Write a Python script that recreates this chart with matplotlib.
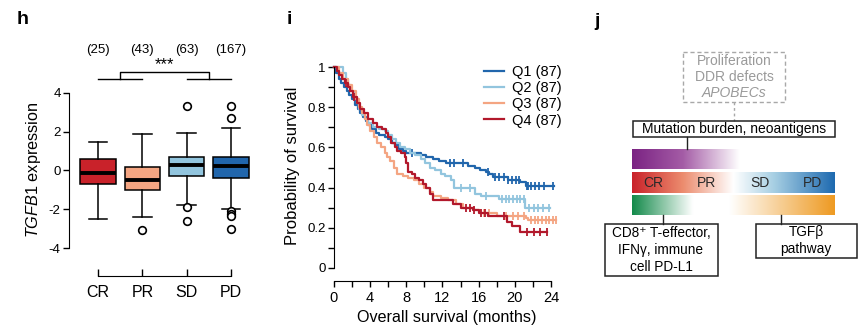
import numpy as np
import matplotlib
matplotlib.use('Agg')
import matplotlib.pyplot as plt
from matplotlib.colors import to_rgb
from matplotlib.patches import Rectangle

plt.rcParams['font.family'] = ['Liberation Sans', 'DejaVu Sans']
plt.rcParams['mathtext.fontset'] = 'custom'
plt.rcParams['mathtext.it'] = 'Liberation Sans:italic'
plt.rcParams['mathtext.rm'] = 'Liberation Sans'

# ---- panel h: TGFB1 expression by response ----
groups = ['CR', 'PR', 'SD', 'PD']
group_n = [25, 43, 63, 167]
box_colors = ['#C9222A', '#F4A582', '#92C5DE', '#2166AC']
whislo = [-2.49, -2.40, -1.76, -1.97]
q1 = [-0.70, -1.02, -0.30, -0.40]
med = [-0.13, -0.51, 0.27, 0.21]
q3 = [0.59, 0.16, 0.70, 0.71]
whishi = [1.45, 1.90, 1.94, 2.19]
fliers = [[], [-3.05], [3.31, -1.88, -2.59], [3.31, 2.69, -2.10, -2.22, -2.37, -3.00]]

# ---- panel i: Kaplan-Meier by TGFB1 quartile ----
km_labels = ['Q1 (87)', 'Q2 (87)', 'Q3 (87)', 'Q4 (87)']
km_colors = ['#2166AC', '#92C5DE', '#F4A582', '#B2182B']
q1_t = [0, 0.2, 0.5, 0.8, 1.1, 1.4, 1.7, 2.0, 2.3, 2.6, 2.9, 3.2, 3.5, 3.8, 4.2, 4.6, 5.0, 5.6, 6.0, 6.4,
        6.8, 7.2, 7.6, 8.0, 9.6, 10.2, 11.0, 11.6, 12.4, 14.8, 15.6, 16.2, 16.8, 17.2, 17.6, 19.2, 20.6, 21.2]
q1_s = [1, .97, .94, .92, .90, .88, .86, .84, .81, .79, .77, .75, .73, .71, .69, .67, .66, .65, .64, .62,
        .61, .59, .58, .57, .56, .55, .54, .53, .52, .51, .50, .49, .48, .47, .455, .44, .43, .41]
q1_cens = [8.6, 12.8, 13.3, 14.3, 17.0, 17.8, 18.3, 18.8, 19.3, 19.7, 20.1, 20.5, 21.3, 21.5, 21.8,
           22.2, 22.7, 23.2, 24.2]
q2_t = [0, 1.0, 1.3, 1.6, 1.9, 2.2, 2.5, 2.8, 3.1, 3.4, 3.8, 4.3, 5.0, 5.6, 6.0, 6.4, 6.9, 7.3, 7.8, 8.4,
        9.0, 9.6, 10.1, 10.6, 11.2, 11.8, 12.3, 12.9, 13.3, 15.6, 16.3, 18.2, 21.1]
q2_s = [1, .97, .94, .91, .88, .85, .82, .79, .76, .74, .72, .70, .69, .68, .66, .64, .62, .60, .59, .57,
        .56, .54, .52, .50, .49, .47, .46, .44, .40, .37, .36, .345, .30]
q2_cens = [14.0, 15.0, 16.8, 18.6, 19.0, 19.4, 19.8, 20.2, 20.6, 21.0, 21.6, 22.1, 22.6, 23.1, 23.8]
q3_t = [0, 0.5, 1.0, 1.5, 2.0, 2.4, 2.8, 3.1, 3.4, 3.7, 4.0, 4.4, 4.8, 5.2, 5.6, 5.9, 6.2, 6.6, 7.0, 7.6,
        8.2, 8.8, 9.4, 10.0, 10.6, 11.0, 11.8, 12.6, 13.5, 14.3, 15.5, 16.2, 18.0, 21.2, 21.5]
q3_s = [1, .97, .94, .91, .88, .84, .80, .77, .74, .71, .68, .65, .62, .60, .57, .55, .53, .50, .47, .46,
        .45, .44, .42, .40, .38, .36, .35, .34, .32, .30, .29, .275, .26, .25, .24]
q3_cens = [16.6, 17.2, 19.0, 19.8, 20.4, 21.0, 21.8, 22.2, 22.6, 23.0, 23.4, 23.8, 24.2, 24.6]
q4_t = [0, 0.3, 0.6, 0.9, 1.2, 1.5, 1.8, 2.1, 2.5, 2.9, 3.3, 3.8, 4.3, 4.8, 5.3, 5.7, 6.0, 6.3, 6.7, 7.0,
        7.4, 7.8, 8.0, 8.2, 8.6, 9.0, 9.4, 9.8, 10.2, 10.6, 11.0, 13.2, 14.0, 15.4, 16.0, 17.0, 19.1, 19.7, 20.6]
q4_s = [1, .98, .96, .94, .92, .90, .88, .85, .82, .79, .77, .74, .72, .70, .69, .67, .65, .62, .60, .58,
        .57, .55, .52, .48, .47, .45, .44, .42, .40, .37, .34, .32, .30, .29, .275, .26, .23, .21, .18]
q4_cens = [1.3, 2.2, 14.6, 15.0, 15.5, 16.3, 16.7, 18.8, 21.3, 22.1, 22.8, 23.6]

fig = plt.figure(figsize=(8.6, 3.3), dpi=100)
W, H = 860.0, 330.0


def px_axes(x0, y0, x1, y1):
    # pixel box (top-left origin) -> figure axes
    return fig.add_axes([x0 / W, 1 - y1 / H, (x1 - x0) / W, (y1 - y0) / H])


# ================= h =================
axh = px_axes(69, 60, 260, 280)
stats = []
for i in range(4):
    stats.append(dict(med=med[i], q1=q1[i], q3=q3[i], whislo=whislo[i], whishi=whishi[i],
                      fliers=fliers[i], label=groups[i]))
bp = axh.bxp(stats, positions=[1, 2, 3, 4], widths=0.8, capwidths=0.42, patch_artist=True,
             boxprops=dict(linewidth=1.1, edgecolor='black'),
             medianprops=dict(color='black', linewidth=2.8),
             whiskerprops=dict(linewidth=1.1), capprops=dict(linewidth=1.1),
             flierprops=dict(marker='o', markersize=5.5, markerfacecolor='white',
                             markeredgecolor='black', markeredgewidth=1.2))
for patch, c in zip(bp['boxes'], box_colors):
    patch.set_facecolor(c)
axh.set_xlim(0.346, 4.655)
axh.set_ylim(-5.65, 5.70)
axh.spines['top'].set_visible(False)
axh.spines['right'].set_visible(False)
axh.spines['left'].set_bounds(-4, 4)
axh.spines['bottom'].set_position(('data', -5.42))
axh.spines['bottom'].set_bounds(1, 4)
axh.set_yticks([-4, -2, 0, 2, 4])
axh.set_yticklabels(['-4', '-2', '0', '2', '4'])
axh.tick_params(axis='y', labelsize=9.5, length=4, width=1, pad=2)
axh.tick_params(axis='x', direction='in', length=5, width=1, labelsize=11.5, pad=7)
axh.set_xticks([1, 2, 3, 4])
axh.set_xticklabels(groups)
axh.set_ylabel(r'$\it{TGFB1}$ expression', fontsize=11.7, labelpad=4)
for i, n in enumerate(group_n):
    axh.text(i + 1, 6.22, '(%d)' % n, ha='center', va='center', fontsize=9.5, clip_on=False)
axh.plot([1, 2], [4.71, 4.71], color='black', lw=1, clip_on=False)
axh.plot([3, 4], [4.71, 4.71], color='black', lw=1, clip_on=False)
axh.plot([1.5, 1.5, 3.5, 3.5], [4.71, 5.08, 5.08, 4.71], color='black', lw=1, clip_on=False)
axh.text(2.5, 5.45, '***', ha='center', va='center', fontsize=12, clip_on=False)

# ================= i =================
axi = px_axes(334, 63, 560, 268)
curves = [(q1_t, q1_s, q1_cens, 24.3), (q2_t, q2_s, q2_cens, 23.9),
          (q3_t, q3_s, q3_cens, 24.6), (q4_t, q4_s, q4_cens, 23.6)]
for (t, s, cens, tend), col, lab in zip(curves, km_colors, km_labels):
    tt = list(t) + [tend]
    ss = list(s) + [s[-1]]
    axi.step(tt, ss, where='post', color=col, lw=1.6, label=lab, clip_on=False)
    cy = [s[np.searchsorted(t, c, side='right') - 1] for c in cens]
    axi.plot(cens, cy, linestyle='none', marker='|', markersize=6, markeredgewidth=1.3,
             color=col, clip_on=False)
axi.set_xlim(0, 25)
axi.set_ylim(0, 1.02)
axi.spines['top'].set_visible(False)
axi.spines['right'].set_visible(False)
axi.spines['left'].set_bounds(0, 1)
axi.spines['bottom'].set_position(('outward', 9))
axi.spines['bottom'].set_bounds(0, 24)
axi.set_yticks([0, 0.2, 0.4, 0.6, 0.8, 1.0])
axi.set_yticklabels(['0', '0.2', '0.4', '0.6', '0.8', '1'])
axi.set_yticks(np.arange(0.1, 1.0, 0.2), minor=True)
axi.set_xticks(range(0, 25, 4))
axi.set_xticks(range(2, 24, 4), minor=True)
axi.tick_params(which='both', length=4, width=1)
axi.tick_params(axis='y', pad=2, labelsize=9.5)
axi.tick_params(axis='x', labelsize=10.5)
axi.set_ylabel('Probability of survival', fontsize=12, labelpad=5)
axi.set_xlabel('Overall survival (months)', fontsize=11.6, labelpad=4)
axi.legend(loc='upper left', bbox_to_anchor=(484 / W, 1 - 65 / H), bbox_transform=fig.transFigure,
           frameon=False, fontsize=10.5, handlelength=1.4, handletextpad=0.5,
           labelspacing=0.15, borderaxespad=0, borderpad=0)

# ================= j (diagram) + panel letters =================
axo = fig.add_axes([0, 0, 1, 1])
axo.axis('off')


def gradient(x0, x1, y0, y1, stops):
    xs = np.linspace(0, 1, 300)
    rgb = np.zeros((1, 300, 3))
    pos = [p for p, _ in stops]
    for k in range(3):
        rgb[0, :, k] = np.interp(xs, pos, [to_rgb(c)[k] for _, c in stops])
    axo.imshow(rgb, extent=(x0, x1, y1, y0), aspect='auto', interpolation='bilinear', zorder=1)


gradient(632, 835, 149, 169, [(0, '#7B2383'), (0.25, '#A45CA6'), (0.53, '#FFFFFF'), (1, '#FFFFFF')])
gradient(632, 835, 172, 193, [(0, '#C9222A'), (0.25, '#EC8C6E'), (0.5, '#FFFFFF'),
                              (0.7, '#A7CFE3'), (1, '#1E6AB0')])
gradient(632, 835, 195, 215, [(0, '#138A4A'), (0.3, '#FFFFFF'), (0.48, '#FFFFFF'), (1, '#EE9A22')])

box_kw = dict(fill=False, linewidth=1.1, edgecolor='#222222', zorder=3)
axo.add_patch(Rectangle((683, 52), 102, 50, fill=False, linewidth=1, edgecolor='#A8A8A8',
                        linestyle=(0, (3, 2)), zorder=3))
axo.add_patch(Rectangle((633, 121), 202, 16, **box_kw))
axo.add_patch(Rectangle((605, 224), 113, 52, **box_kw))
axo.add_patch(Rectangle((756, 224), 101, 34, **box_kw))
axo.plot([734, 734], [102, 121], color='#A8A8A8', lw=1, linestyle=(0, (2, 2)))
axo.plot([687, 687], [137, 149], color='#222222', lw=1)
axo.plot([663, 663], [215, 224], color='#222222', lw=1)
axo.plot([781, 781], [215, 224], color='#222222', lw=1)

grey = '#9A9A9A'
axo.text(734, 61, 'Proliferation', ha='center', va='center', fontsize=10, color=grey)
axo.text(734, 77, 'DDR defects', ha='center', va='center', fontsize=10, color=grey)
axo.text(734, 93, 'APOBECs', ha='center', va='center', fontsize=10, color=grey, style='italic')
axo.text(734, 129, 'Mutation burden, neoantigens', ha='center', va='center', fontsize=10)
for lab, xx in zip(groups, [653, 707, 760, 813]):
    axo.text(xx, 183, lab, ha='center', va='center', fontsize=10, color='#2A2A2A', zorder=4)
axo.text(661, 233, 'CD8\u207a T-effector,', ha='center', va='center', fontsize=9.8)
axo.text(661, 250, 'IFN\u03b3, immune', ha='center', va='center', fontsize=9.8)
axo.text(661, 267, 'cell PD-L1', ha='center', va='center', fontsize=9.8)
axo.text(806, 232, 'TGF\u03b2', ha='center', va='center', fontsize=9.8)
axo.text(806, 249, 'pathway', ha='center', va='center', fontsize=9.8)

axo.text(23, 20, 'h', ha='center', va='center', fontsize=14, fontweight='bold')
axo.text(289, 20, 'i', ha='center', va='center', fontsize=14, fontweight='bold')
axo.text(597, 22, 'j', ha='center', va='center', fontsize=14, fontweight='bold')

axo.set_xlim(0, W)
axo.set_ylim(H, 0)

fig.savefig('out.png', dpi=100)
